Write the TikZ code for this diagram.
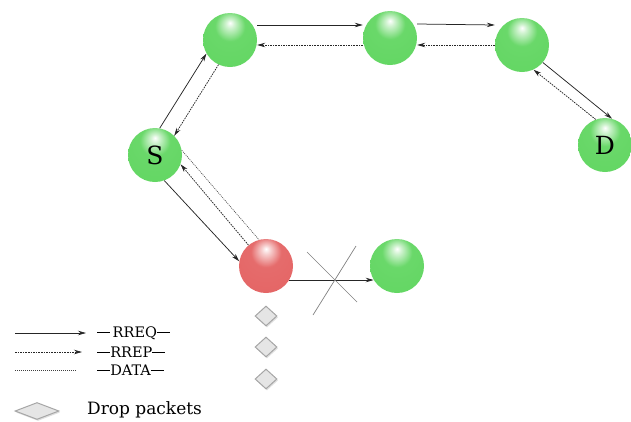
\documentclass[tikz,border=0pt]{standalone}
\usepackage{fontspec}
\setmainfont{DejaVu Serif}
\usetikzlibrary{arrows.meta,shapes.geometric,shadows}
\definecolor{gball}{RGB}{98,214,98}
\definecolor{rball}{RGB}{228,100,100}
\pgfdeclareradialshading{greenball}{\pgfpoint{0bp}{16bp}}{%
  color(0bp)=(white); color(4bp)=(white!70!gball); color(14bp)=(gball!95!white);
  color(40bp)=(gball); color(62bp)=(gball!85!black); color(70bp)=(gball!85!black)}
\pgfdeclareradialshading{redball}{\pgfpoint{0bp}{16bp}}{%
  color(0bp)=(white); color(4bp)=(white!70!rball); color(14bp)=(rball!95!white);
  color(40bp)=(rball); color(62bp)=(rball!88!black); color(70bp)=(rball!88!black)}
\tikzset{
  gnode/.style={circle,minimum size=54pt,inner sep=0pt,shading=greenball,font=\fontsize{25}{25}\selectfont},
  rnode/.style={circle,minimum size=54pt,inner sep=0pt,shading=redball},
  req/.style={-{Stealth[length=8pt,width=4.5pt]},line width=0.75pt,black!85},
  rep/.style={-{Stealth[length=8pt,width=4.5pt]},line width=0.75pt,dash pattern=on 1.6pt off 1pt,black!85},
  dat/.style={line width=0.6pt,dash pattern=on 1pt off 1pt,black!75},
  drop/.style={diamond,minimum width=22pt,minimum height=20pt,inner sep=0pt,draw=black!35,fill=black!10,line width=1pt,drop shadow={shadow xshift=1pt,shadow yshift=-1.5pt,fill=black!25}},
  xline/.style={black!50,line width=0.7pt},
  lab/.style={font=\fontsize{14.5}{14.5}\selectfont,anchor=west,inner sep=0pt}
}
\newcommand{\shortdash}{\rule[0.3em]{0.9em}{0.06em}}
\begin{document}
\begin{tikzpicture}[x=1pt,y=-1pt]
\useasboundingbox (0,0) rectangle (631,421);
\node[gnode] (A) at (230,40) {};
\node[gnode] (B) at (390,38) {};
\node[gnode] (C) at (522,45) {};
\node[gnode] (D) at (605,145) {D};
\node[gnode] (S) at (155,155) {S};
\node[rnode] (R) at (266,266) {};
\node[gnode] (E) at (397,266) {};
% top chain
\draw[req] ([yshift=15pt]A.east) -- ([yshift=13pt]B.west);
\draw[rep] ([yshift=-7pt]B.west) -- ([yshift=-5pt]A.east);
\draw[req] ([yshift=14pt]B.east) -- ([yshift=20pt]C.west);
\draw[rep] (C.west) -- ([yshift=-7pt]B.east);
% C - D
\draw[req] (C.-40) -- (D.75);
\draw[rep] (D.110) -- (C.-65);
% S - A
\draw[req] (S.80) -- (A.-150);
\draw[rep] (A.-115) -- (S.45);
% S - R
\draw[req] (S.-70) -- (R.170);
\draw[rep] (R.130) -- (S.-20);
\draw[dat] (S.10) -- (R.105);
% R - E
\draw[req] (R.-31) -- (E.-149);
\coordinate (x1) at (307,252);
\coordinate (x2) at (357,302);
\coordinate (x3) at (313,315);
\coordinate (x4) at (356,246);
\draw[xline] (x1) -- (x2);
\draw[xline] (x3) -- (x4);
% dropped packets
\node[drop] (p1) at (266,316) {};
\node[drop] (p2) at (266,347) {};
\node[drop] (p3) at (266,379) {};
% legend
\coordinate (l1a) at (15,333); \coordinate (l1b) at (86,333);
\coordinate (l2a) at (15,352); \coordinate (l2b) at (82,352);
\coordinate (l3a) at (15,370); \coordinate (l3b) at (77,370);
\draw[req] (l1a) -- (l1b);
\draw[rep] (l2a) -- (l2b);
\draw[dat] (l3a) -- (l3b);
\node[lab] (t1) at (97,333) {\shortdash\,RREQ\shortdash};
\node[lab] (t2) at (97,352) {\shortdash RREP\shortdash};
\node[lab] (t3) at (97,370) {\shortdash DATA\shortdash};
\node[drop,minimum width=44pt,minimum height=17pt] (pl) at (37,411) {};
\node[lab,font=\fontsize{17}{17}\selectfont] (t4) at (87,410) {Drop packets};
\end{tikzpicture}
\end{document}
